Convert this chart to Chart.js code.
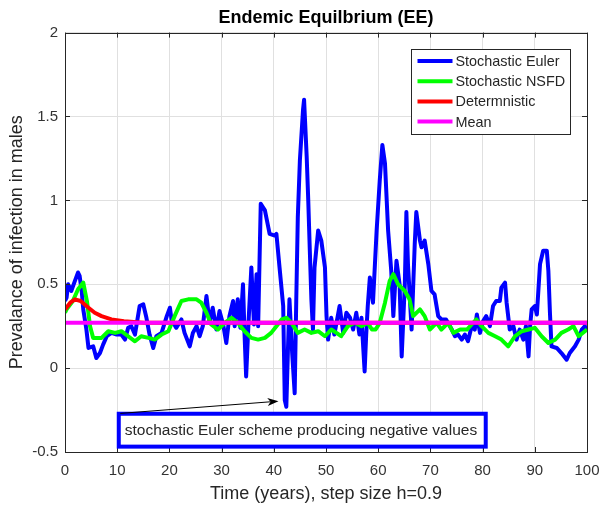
<!DOCTYPE html>
<html>
<head>
<meta charset="utf-8">
<script src="https://cdn.jsdelivr.net/npm/chart.js@4.4.1/dist/chart.umd.min.js"></script>
<style>
  html, body { margin: 0; padding: 0; background: #fff; }
  #wrap { width: 599px; height: 508px; }
</style>
</head>
<body>
<div id="wrap"><canvas id="eeChart" width="599" height="508"></canvas></div>
<script>
// values (time in years, prevalence)
const eulerT = [0, 0.3, 0.6, 1.2, 1.9, 2.5, 2.8, 3.2, 3.5, 4.1, 4.5, 5.4, 6.0, 6.7, 7.3, 8.0, 8.9, 9.9, 10.8, 11.5,
  12.1, 12.7, 13.4, 14.3, 15.0, 15.6, 16.2, 16.9, 17.5, 18.5, 19.5, 20.1, 20.4, 21.3, 22.3, 22.9, 23.9, 24.5, 25.2, 25.8,
  26.4, 27.1, 27.7, 28.3, 29.0, 29.6, 30.3, 30.9, 31.5, 32.2, 32.5, 33.1, 33.6, 34.1, 34.4, 34.7, 35.2, 35.7, 36.2, 36.7,
  37.0, 37.5, 38.3, 39.2, 40.2, 40.5, 41.1, 41.8, 42.1, 42.4, 42.7, 43.0, 43.5, 44.0, 44.3, 44.6, 45.0, 45.6, 45.8, 46.3,
  46.6, 46.9, 47.2, 47.5, 47.8, 48.5, 49.1, 49.8, 50.1, 50.4, 51.0, 51.6, 52.6, 53.3, 53.9, 54.6, 55.2, 55.8, 56.4, 56.8,
  57.4, 57.7, 58.0, 58.4, 59.0, 59.7, 60.3, 60.8, 61.3, 61.6, 61.9, 62.5, 62.9, 63.5, 64.1, 64.5, 65.1, 65.4, 65.7, 66.4,
  67.0, 67.3, 68.0, 68.3, 68.9, 69.6, 70.2, 70.8, 71.5, 72.1, 73.0, 74.1, 74.7, 75.3, 76.0, 76.6, 77.2, 77.9, 78.5, 78.9,
  79.5, 80.1, 80.7, 81.4, 82.0, 82.6, 83.3, 83.6, 84.3, 84.6, 85.2, 85.9, 86.5, 87.1, 87.8, 88.3, 88.8, 89.1, 89.4, 90.0,
  90.4, 91.0, 91.6, 92.3, 92.6, 92.9, 93.2, 94.2, 95.1, 96.1, 96.7, 97.7, 98.4, 99.0, 99.6, 100];
const eulerV = [0.40, 0.42, 0.50, 0.46, 0.52, 0.57, 0.55, 0.46, 0.35, 0.23, 0.12, 0.13, 0.06, 0.09, 0.14, 0.19, 0.21, 0.20, 0.20, 0.17,
  0.24, 0.25, 0.20, 0.37, 0.38, 0.30, 0.20, 0.12, 0.19, 0.21, 0.31, 0.36, 0.29, 0.24, 0.29, 0.21, 0.13, 0.21, 0.25, 0.19,
  0.25, 0.43, 0.27, 0.36, 0.23, 0.34, 0.26, 0.15, 0.31, 0.40, 0.25, 0.41, 0.24, 0.50, 0.20, -0.05, 0.30, 0.60, 0.26, 0.56,
  0.25, 0.98, 0.94, 0.80, 0.79, 0.80, 0.60, 0.37, -0.19, -0.23, 0.10, 0.41, 0.10, -0.15, 0.40, 0.90, 1.24, 1.54, 1.60, 1.26,
  1.00, 0.70, 0.41, 0.23, 0.60, 0.82, 0.76, 0.60, 0.31, 0.17, 0.30, 0.20, 0.37, 0.21, 0.33, 0.30, 0.23, 0.33, 0.20, 0.30,
  -0.02, 0.20, 0.37, 0.54, 0.39, 0.82, 1.12, 1.33, 1.22, 1.02, 0.82, 0.58, 0.31, 0.64, 0.50, 0.07, 0.50, 0.93, 0.62, 0.23,
  0.74, 0.93, 0.76, 0.72, 0.76, 0.62, 0.46, 0.44, 0.31, 0.29, 0.29, 0.23, 0.19, 0.20, 0.17, 0.20, 0.16, 0.25, 0.23, 0.32,
  0.21, 0.28, 0.31, 0.25, 0.37, 0.40, 0.40, 0.48, 0.51, 0.39, 0.23, 0.25, 0.17, 0.23, 0.17, 0.25, 0.07, 0.25, 0.35, 0.37,
  0.32, 0.62, 0.70, 0.70, 0.58, 0.33, 0.13, 0.12, 0.09, 0.05, 0.09, 0.13, 0.17, 0.23, 0.25, 0.22];

const nsfdT = [0, 0.3, 1.5, 2.5, 3.5, 4.2, 4.8, 5.4, 7.0, 8.3, 9.6, 10.8, 12.1, 13.4, 14.6, 16.0, 17.2, 18.5, 19.8, 21.0,
  22.3, 23.6, 25.2, 26.1, 27.1, 28.0, 29.3, 30.6, 31.9, 33.1, 34.4, 35.7, 37.0, 38.3, 39.5, 40.5, 41.5, 42.4, 43.4, 44.6,
  45.9, 47.2, 48.5, 49.8, 51.0, 52.0, 52.9, 54.2, 55.5, 56.8, 58.0, 58.8, 59.5, 60.3, 61.3, 62.2, 62.9, 63.8, 65.1, 66.0,
  66.7, 68.0, 68.9, 69.9, 71.2, 72.1, 73.4, 74.4, 75.7, 77.0, 77.9, 78.8, 79.8, 81.1, 82.4, 83.6, 84.9, 86.2, 87.5, 88.8,
  90.0, 91.3, 92.6, 93.9, 95.1, 96.4, 97.4, 98.4, 99.6, 100];
const nsfdV = [0.33, 0.35, 0.40, 0.47, 0.51, 0.40, 0.25, 0.18, 0.18, 0.22, 0.21, 0.22, 0.19, 0.16, 0.19, 0.18, 0.17, 0.20, 0.22, 0.31,
  0.40, 0.41, 0.41, 0.39, 0.33, 0.26, 0.23, 0.27, 0.30, 0.27, 0.22, 0.18, 0.17, 0.18, 0.21, 0.25, 0.29, 0.30, 0.27, 0.21,
  0.23, 0.21, 0.22, 0.19, 0.23, 0.21, 0.19, 0.25, 0.27, 0.25, 0.27, 0.23, 0.23, 0.27, 0.39, 0.52, 0.56, 0.50, 0.46, 0.41,
  0.31, 0.35, 0.31, 0.23, 0.27, 0.23, 0.27, 0.21, 0.23, 0.23, 0.26, 0.29, 0.25, 0.21, 0.19, 0.17, 0.13, 0.19, 0.22, 0.23,
  0.24, 0.19, 0.15, 0.17, 0.21, 0.23, 0.25, 0.19, 0.22, 0.23];

const detT = [0, 1, 1.9, 3, 4.5, 5.7, 7, 8.9, 11.3, 15, 100];
const detV = [0.35, 0.39, 0.41, 0.40, 0.36, 0.33, 0.31, 0.29, 0.28, 0.27, 0.27];

const meanT = [0, 100];
const meanV = [0.27, 0.27];

const seriesNames = ['Stochastic Euler', 'Stochastic NSFD', 'Determnistic', 'Mean'];
const seriesColors = ['#0000ff', '#00ff00', '#ff0000', '#ff00ff'];

const xTickValues = [0, 10, 20, 30, 40, 50, 60, 70, 80, 90, 100];
const yTickValues = [-0.5, 0, 0.5, 1, 1.5, 2];

const noteText = 'stochastic Euler scheme producing negative values';

const toPoints = (ts, vs) => ts.map((t, i) => ({ x: t, y: vs[i] }));

// MATLAB-like frame with ticks pointing inward
const matlabFrame = {
  id: 'matlabFrame',
  afterDatasetsDraw(chart) {
    const { ctx, chartArea: a, scales } = chart;
    ctx.save();
    ctx.strokeStyle = '#262626';
    ctx.lineWidth = 1;
    ctx.beginPath();
    scales.x.ticks.forEach((t, i) => {
      const px = Math.round(scales.x.getPixelForTick(i)) + 0.5;
      ctx.moveTo(px, a.top); ctx.lineTo(px, a.top + 5);
      ctx.moveTo(px, a.bottom); ctx.lineTo(px, a.bottom - 5);
    });
    scales.y.ticks.forEach((t, i) => {
      const py = Math.round(scales.y.getPixelForTick(i)) + 0.5;
      ctx.moveTo(a.left, py); ctx.lineTo(a.left + 5, py);
      ctx.moveTo(a.right, py); ctx.lineTo(a.right - 5, py);
    });
    ctx.stroke();
    ctx.strokeRect(Math.round(a.left) + 0.5, Math.round(a.top) + 0.5,
      Math.round(a.right - a.left), Math.round(a.bottom - a.top));
    ctx.restore();
  }
};

// boxed note with arrow to the negative dip
const noteBox = {
  id: 'noteBox',
  afterDatasetsDraw(chart) {
    const { ctx, scales: { x, y } } = chart;
    const bx0 = x.getPixelForValue(10.3), bx1 = x.getPixelForValue(80.6);
    const by0 = y.getPixelForValue(-0.272), by1 = y.getPixelForValue(-0.468);
    ctx.save();
    ctx.fillStyle = '#fff';
    ctx.fillRect(bx0, by0, bx1 - bx0, by1 - by0);
    ctx.strokeStyle = '#0000ff';
    ctx.lineWidth = 4;
    ctx.strokeRect(bx0, by0, bx1 - bx0, by1 - by0);
    ctx.fillStyle = '#262626';
    ctx.font = '15.5px "Liberation Sans", Arial, sans-serif';
    ctx.textBaseline = 'middle';
    ctx.fillText(noteText, bx0 + 6, (by0 + by1) / 2 + 1);

    // arrow
    const ax0 = x.getPixelForValue(10.6), ay0 = y.getPixelForValue(-0.27);
    const ax1 = x.getPixelForValue(40.9), ay1 = y.getPixelForValue(-0.197);
    const ang = Math.atan2(ay1 - ay0, ax1 - ax0);
    ctx.strokeStyle = '#000';
    ctx.lineWidth = 1;
    ctx.beginPath();
    ctx.moveTo(ax0, ay0);
    ctx.lineTo(ax1 - 8 * Math.cos(ang), ay1 - 8 * Math.sin(ang));
    ctx.stroke();
    ctx.fillStyle = '#000';
    ctx.beginPath();
    ctx.moveTo(ax1, ay1);
    ctx.lineTo(ax1 - 11 * Math.cos(ang) + 4 * Math.sin(ang), ay1 - 11 * Math.sin(ang) - 4 * Math.cos(ang));
    ctx.lineTo(ax1 - 8 * Math.cos(ang), ay1 - 8 * Math.sin(ang));
    ctx.lineTo(ax1 - 11 * Math.cos(ang) - 4 * Math.sin(ang), ay1 - 11 * Math.sin(ang) + 4 * Math.cos(ang));
    ctx.closePath();
    ctx.fill();
    ctx.restore();
  }
};

// legend box in the upper right of the axes
const boxLegend = {
  id: 'boxLegend',
  afterDraw(chart) {
    const { ctx, chartArea: a } = chart;
    const w = 159, h = 85;
    const lx = Math.round(a.right - 17 - w) + 0.5, ly = Math.round(a.top + 16) + 0.5;
    ctx.save();
    ctx.fillStyle = '#fff';
    ctx.fillRect(lx, ly, w, h);
    ctx.strokeStyle = '#262626';
    ctx.lineWidth = 1;
    ctx.strokeRect(lx, ly, w, h);
    ctx.font = '14.4px "Liberation Sans", Arial, sans-serif';
    ctx.textBaseline = 'middle';
    chart.data.datasets.forEach((ds, i) => {
      const ry = ly + 11.5 + i * 20.2;
      ctx.strokeStyle = ds.borderColor;
      ctx.lineWidth = 4;
      ctx.beginPath();
      ctx.moveTo(lx + 6, ry);
      ctx.lineTo(lx + 41, ry);
      ctx.stroke();
      ctx.fillStyle = '#262626';
      ctx.fillText(ds.label, lx + 44, ry + 1);
    });
    ctx.restore();
  }
};

const ctx = document.getElementById('eeChart').getContext('2d');

const datasets = [
  { label: seriesNames[0], data: toPoints(eulerT, eulerV), order: 4 },
  { label: seriesNames[1], data: toPoints(nsfdT, nsfdV), order: 3 },
  { label: seriesNames[2], data: toPoints(detT, detV), order: 2 },
  { label: seriesNames[3], data: toPoints(meanT, meanV), order: 1 }
].map((d, i) => Object.assign(d, {
  borderColor: seriesColors[i],
  backgroundColor: seriesColors[i],
  borderWidth: 4,
  pointRadius: 0,
  tension: 0,
  fill: false,
  borderJoinStyle: 'round',
  borderCapStyle: 'butt'
}));

const tickFont = { family: '"Liberation Sans", Arial, sans-serif', size: 15 };

new Chart(ctx, {
  type: 'line',
  data: { datasets: datasets },
  plugins: [matlabFrame, noteBox, boxLegend],
  options: {
    responsive: false,
    animation: false,
    devicePixelRatio: 1,
    layout: { padding: { left: 0, right: 0, top: 0, bottom: 0 } },
    plugins: {
      legend: { display: false },
      tooltip: { enabled: false },
      title: {
        display: true,
        text: 'Endemic Equilbrium (EE)',
        fullSize: false,
        color: '#000',
        font: { family: '"Liberation Sans", Arial, sans-serif', size: 18, weight: 'bold' },
        padding: { top: 7, bottom: 4 }
      }
    },
    scales: {
      x: {
        type: 'linear',
        min: 0,
        max: 100,
        afterBuildTicks: s => { s.ticks = xTickValues.map(v => ({ value: v })); },
        afterFit: s => { s.height = 56; s.paddingRight = 12; s.paddingLeft = 4; },
        ticks: { color: '#333', font: tickFont, padding: 10, maxRotation: 0, callback: v => String(v) },
        grid: { color: '#e0e0e0', drawTicks: false },
        border: { display: false },
        title: {
          display: true,
          text: 'Time (years), step size h=0.9',
          color: '#262626',
          font: { family: '"Liberation Sans", Arial, sans-serif', size: 18 },
          padding: { top: 0, bottom: 3 }
        }
      },
      y: {
        type: 'linear',
        min: -0.5,
        max: 2,
        afterBuildTicks: s => { s.ticks = yTickValues.map(v => ({ value: v })); },
        afterFit: s => { s.width = 65; },
        ticks: { color: '#333', font: tickFont, padding: 7, callback: v => String(v) },
        grid: { color: '#e0e0e0', drawTicks: false },
        border: { display: false },
        title: {
          display: true,
          text: 'Prevalance of infection in males',
          color: '#262626',
          font: { family: '"Liberation Sans", Arial, sans-serif', size: 18 },
          padding: { top: 6, bottom: 0 }
        }
      }
    }
  }
});
</script>
</body>
</html>
